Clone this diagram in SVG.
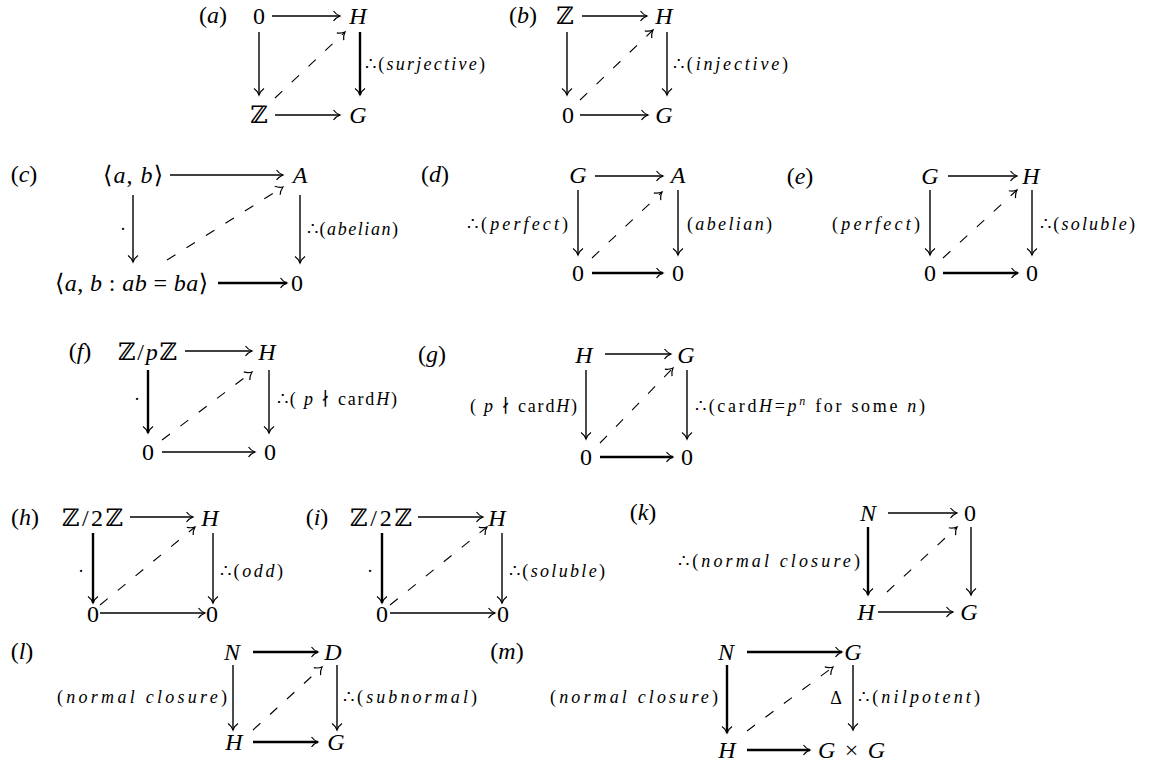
<svg xmlns="http://www.w3.org/2000/svg" width="1153" height="763" viewBox="0 0 1153 763">
<style>
text{font-family:"Liberation Serif","DejaVu Serif",serif;fill:#000}
.n{font-size:24px;text-anchor:middle}
.s{text-anchor:start}
.cap{font-size:24px;text-anchor:middle}
.l{font-size:18px}
.i{font-style:italic}
.c{stroke:#000;stroke-width:1.4;fill:none;marker-end:url(#ah)}
.t{stroke-width:2.4}
.d{stroke-width:1.1;stroke-dasharray:10 13}
</style>
<defs>
<marker id="ah" markerUnits="userSpaceOnUse" viewBox="-8 -6 10 12" markerWidth="10" markerHeight="12" refX="0" refY="0" orient="auto" overflow="visible">
<path d="M-6.5,-5 C-4.5,-2.2 -1.6,-0.6 0,0 C-1.6,0.6 -4.5,2.2 -6.5,5" fill="none" stroke="#000" stroke-width="1.2"/>
</marker>
</defs>
<g id="captions">
<text class="cap" x="213" y="23">(<tspan class="i">a</tspan>)</text>
<text class="cap" x="523" y="23">(<tspan class="i">b</tspan>)</text>
<text class="cap" x="24" y="182">(<tspan class="i">c</tspan>)</text>
<text class="cap" x="435" y="182">(<tspan class="i">d</tspan>)</text>
<text class="cap" x="800" y="184">(<tspan class="i">e</tspan>)</text>
<text class="cap" x="80" y="359">(<tspan class="i">f</tspan>)</text>
<text class="cap" x="432" y="362">(<tspan class="i">g</tspan>)</text>
<text class="cap" x="25" y="525">(<tspan class="i">h</tspan>)</text>
<text class="cap" x="317" y="525">(<tspan class="i">i</tspan>)</text>
<text class="cap" x="643" y="520">(<tspan class="i">k</tspan>)</text>
<text class="cap" x="22" y="659">(<tspan class="i">l</tspan>)</text>
<text class="cap" x="507" y="659">(<tspan class="i">m</tspan>)</text>
</g>
<!-- (a) -->
<g id="a-0"><text class="n" x="259" y="24">0</text></g>
<g id="a-H"><text class="n i" x="358" y="24">H</text></g>
<g id="a-Z"><text class="n" x="259" y="123">ℤ</text></g>
<g id="a-G"><text class="n i" x="358" y="123">G</text></g>
<!-- (b) -->
<g id="b-Z"><text class="n" x="565" y="24">ℤ</text></g>
<g id="b-H"><text class="n i" x="664" y="24">H</text></g>
<g id="b-0"><text class="n" x="568" y="123">0</text></g>
<g id="b-G"><text class="n i" x="664" y="123">G</text></g>
<!-- (c) -->
<g id="c-ab"><text class="n" x="133" y="183" textLength="60">⟨<tspan class="i">a</tspan>, <tspan class="i">b</tspan>⟩</text></g>
<g id="c-A"><text class="n i" x="300" y="183">A</text></g>
<g id="c-rel"><text class="n s" x="55" y="291" textLength="153">⟨<tspan class="i">a</tspan>, <tspan class="i">b</tspan> : <tspan class="i">ab</tspan> = <tspan class="i">ba</tspan>⟩</text></g>
<g id="c-0"><text class="n" x="297" y="291">0</text></g>
<!-- (d) -->
<g id="d-G"><text class="n i" x="578" y="183">G</text></g>
<g id="d-A"><text class="n i" x="678" y="183">A</text></g>
<g id="d-0l"><text class="n" x="578" y="281">0</text></g>
<g id="d-0r"><text class="n" x="678" y="281">0</text></g>
<!-- (e) -->
<g id="e-G"><text class="n i" x="930" y="184">G</text></g>
<g id="e-H"><text class="n i" x="1031" y="184">H</text></g>
<g id="e-0l"><text class="n" x="930" y="281">0</text></g>
<g id="e-0r"><text class="n" x="1032" y="281">0</text></g>
<!-- (f) -->
<g id="f-ZpZ"><text class="n s" x="118" y="360" textLength="59">ℤ/<tspan class="i">p</tspan>ℤ</text></g>
<g id="f-H"><text class="n i" x="267" y="360">H</text></g>
<g id="f-0l"><text class="n" x="148" y="460">0</text></g>
<g id="f-0r"><text class="n" x="270" y="460">0</text></g>
<!-- (g) -->
<g id="g-H"><text class="n i" x="584" y="363">H</text></g>
<g id="g-G"><text class="n i" x="686" y="363">G</text></g>
<g id="g-0l"><text class="n" x="586" y="465">0</text></g>
<g id="g-0r"><text class="n" x="687" y="465">0</text></g>
<!-- (h) -->
<g id="h-Z2Z"><text class="n s" x="62" y="526" textLength="61">ℤ/2ℤ</text></g>
<g id="h-H"><text class="n i" x="210" y="526">H</text></g>
<g id="h-0l"><text class="n" x="93" y="622">0</text></g>
<g id="h-0r"><text class="n" x="212" y="622">0</text></g>
<!-- (i) -->
<g id="i-Z2Z"><text class="n s" x="350" y="526" textLength="62">ℤ/2ℤ</text></g>
<g id="i-H"><text class="n i" x="497" y="526">H</text></g>
<g id="i-0l"><text class="n" x="382" y="622">0</text></g>
<g id="i-0r"><text class="n" x="503" y="622">0</text></g>
<!-- (k) -->
<g id="k-N"><text class="n i" x="868" y="521">N</text></g>
<g id="k-0"><text class="n" x="970" y="521">0</text></g>
<g id="k-H"><text class="n i" x="866" y="620">H</text></g>
<g id="k-G"><text class="n i" x="969" y="620">G</text></g>
<!-- (l) -->
<g id="l-N"><text class="n i" x="232" y="660">N</text></g>
<g id="l-D"><text class="n i" x="333" y="660">D</text></g>
<g id="l-H"><text class="n i" x="234" y="750">H</text></g>
<g id="l-G"><text class="n i" x="336" y="750">G</text></g>
<!-- (m) -->
<g id="m-N"><text class="n i" x="726" y="660">N</text></g>
<g id="m-G"><text class="n i" x="853" y="660">G</text></g>
<g id="m-H"><text class="n i" x="727" y="758">H</text></g>
<g id="m-GxG"><text class="n s" x="818" y="758" textLength="67"><tspan class="i">G</tspan> × <tspan class="i">G</tspan></text></g>

<g id="connectors">
<path class="c" d="M272,16 H340"/>
<path class="c" d="M259,32 V95"/>
<path class="c t" d="M360,32 V95"/>
<path class="c" d="M275,115 H340"/>
<path class="c d" d="M275,98 L345,32"/>

<path class="c" d="M582,16 H647"/>
<path class="c" d="M567,32 V95"/>
<path class="c" d="M667,32 V95"/>
<path class="c" d="M580,115 H648"/>
<path class="c d" d="M580,100 L653,30"/>

<path class="c" d="M170,175 H283"/>
<path class="c" d="M133,195 V262"/>
<path class="c" d="M300,195 V263"/>
<path class="c t" d="M218,283 H287"/>
<path class="c d" d="M167,260 L283,187"/>

<path class="c" d="M595,176 H663"/>
<path class="c" d="M578,190 V255"/>
<path class="c" d="M678,190 V255"/>
<path class="c t" d="M592,273 H663"/>
<path class="c d" d="M592,258 L662,192"/>

<path class="c" d="M948,176 H1017"/>
<path class="c" d="M930,190 V255"/>
<path class="c" d="M1032,190 V255"/>
<path class="c t" d="M943,273 H1018"/>
<path class="c d" d="M943,258 L1017,190"/>

<path class="c" d="M185,351 H252"/>
<path class="c t" d="M148,370 V433"/>
<path class="c" d="M269,370 V433"/>
<path class="c" d="M162,452 H255"/>
<path class="c d" d="M162,440 L252,372"/>

<path class="c" d="M605,354 H671"/>
<path class="c" d="M586,370 V439"/>
<path class="c" d="M687,370 V439"/>
<path class="c t" d="M600,457 H673"/>
<path class="c d" d="M600,443 L673,368"/>

<path class="c" d="M130,517 H193"/>
<path class="c t" d="M93,533 V603"/>
<path class="c" d="M213,533 V603"/>
<path class="c" d="M100,613 H205"/>
<path class="c d" d="M100,605 L195,527"/>

<path class="c" d="M418,517 H483"/>
<path class="c t" d="M382,533 V603"/>
<path class="c" d="M502,533 V603"/>
<path class="c" d="M390,613 H495"/>
<path class="c d" d="M390,605 L487,527"/>

<path class="c" d="M888,513 H957"/>
<path class="c t" d="M868,527 V595"/>
<path class="c" d="M971,527 V595"/>
<path class="c" d="M878,612 H953"/>
<path class="c d" d="M887,592 L957,527"/>

<path class="c t" d="M253,652 H318"/>
<path class="c" d="M233,665 V730"/>
<path class="c" d="M337,665 V730"/>
<path class="c t" d="M253,742 H318"/>
<path class="c d" d="M253,730 L322,667"/>

<path class="c t" d="M747,652 H842"/>
<path class="c t" d="M727,665 V733"/>
<path class="c" d="M853,665 V730"/>
<path class="c t" d="M747,750 H810"/>
<path class="c d" d="M747,731 L833,667"/>
</g>

<g id="edge-labels">
<text class="l" x="365" y="70" textLength="120">∴(<tspan class="i">surjective</tspan>)</text>
<text class="l" x="673" y="70" textLength="115">∴(<tspan class="i">injective</tspan>)</text>
<text class="l" x="123" y="235" text-anchor="middle">·</text>
<text class="l" x="307" y="235" textLength="91">∴(<tspan class="i">abelian</tspan>)</text>
<text class="l" x="467" y="230" textLength="101">∴(<tspan class="i">perfect</tspan>)</text>
<text class="l" x="687" y="230" textLength="85">(<tspan class="i">abelian</tspan>)</text>
<text class="l" x="832" y="230" textLength="88">(<tspan class="i">perfect</tspan>)</text>
<text class="l" x="1040" y="230" textLength="95">∴(<tspan class="i">soluble</tspan>)</text>
<text class="l" x="137" y="405" text-anchor="middle">·</text>
<text class="l" x="277" y="405" textLength="120">∴( <tspan class="i">p</tspan> ∤ card<tspan class="i">H</tspan>)</text>
<text class="l" x="470" y="412" textLength="107">( <tspan class="i">p</tspan> ∤ card<tspan class="i">H</tspan>)</text>
<text class="l" x="695" y="412" textLength="230">∴(card<tspan class="i">H</tspan>=<tspan class="i">p</tspan><tspan class="i" dy="-7" font-size="12">n</tspan><tspan dy="7">  for some </tspan><tspan class="i">n</tspan>)</text>
<text class="l" x="81" y="577" text-anchor="middle">·</text>
<text class="l" x="220" y="577" textLength="63">∴(<tspan class="i">odd</tspan>)</text>
<text class="l" x="370" y="577" text-anchor="middle">·</text>
<text class="l" x="509" y="577" textLength="96">∴(<tspan class="i">soluble</tspan>)</text>
<text class="l" x="678" y="567" textLength="182">∴(<tspan class="i">normal  closure</tspan>)</text>
<text class="l" x="57" y="703" textLength="170">(<tspan class="i">normal  closure</tspan>)</text>
<text class="l" x="343" y="703" textLength="134">∴(<tspan class="i">subnormal</tspan>)</text>
<text class="l" x="550" y="703" textLength="168">(<tspan class="i">normal  closure</tspan>)</text>
<text class="l" x="836" y="704" text-anchor="middle" font-size="19">Δ</text>
<text class="l" x="858" y="703" textLength="122">∴(<tspan class="i">nilpotent</tspan>)</text>
</g>
</svg>
